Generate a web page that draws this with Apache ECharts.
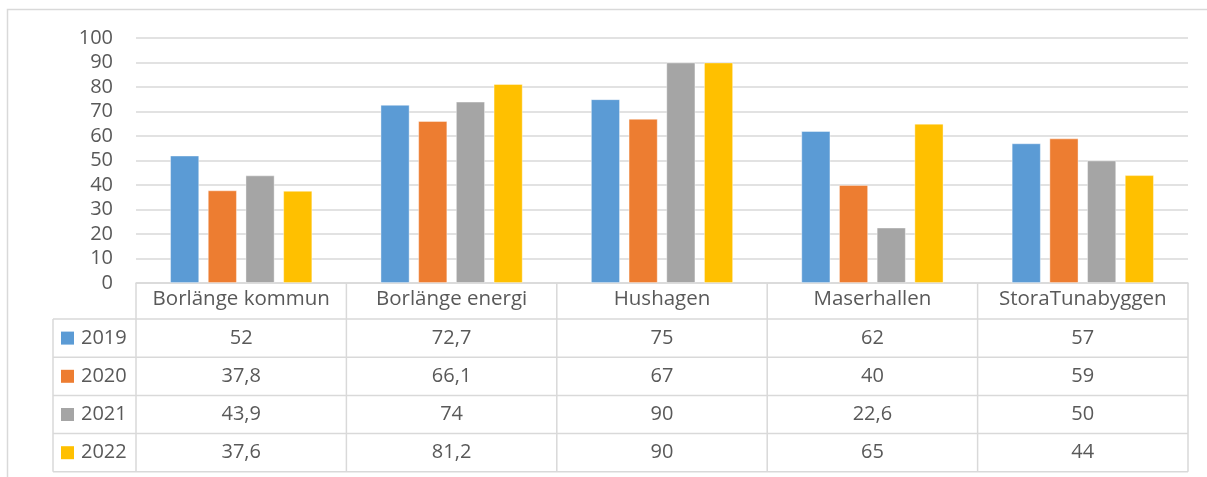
<!DOCTYPE html>
<html><head><meta charset="utf-8">
<script src="https://cdn.jsdelivr.net/npm/echarts@6/dist/echarts.min.js"></script>
<style>html,body{margin:0;padding:0;background:#fff}#c{width:1207px;height:477px}</style>
</head><body><div id="c"></div>
<script>
const categories = ['Borlänge kommun','Borlänge energi','Hushagen','Maserhallen','StoraTunabyggen'];
const years = ['2019','2020','2021','2022'];
const v2019 = [52, 72.7, 75, 62, 57];
const v2020 = [37.8, 66.1, 67, 40, 59];
const v2021 = [43.9, 74, 90, 22.6, 50];
const v2022 = [37.6, 81.2, 90, 65, 44];
const seriesValues = [v2019, v2020, v2021, v2022];
const colors = ['#5b9bd5', '#ed7d31', '#a5a5a5', '#ffc000'];

const FONT = 'Open Sans';
const TXT = '#595959';
const LINE = '#d9d9d9';

const chart = echarts.init(document.getElementById('c'), null, {renderer: 'canvas'});
const option = {
  animation: false,
  backgroundColor: '#fff',
  grid: {left: 136, right: 19, top: 38, bottom: 194},
  xAxis: {
    type: 'category', data: categories,
    axisLine: {show: true, lineStyle: {color: LINE, width: 1.5}},
    axisTick: {show: false},
    axisLabel: {interval: 0, color: TXT, fontFamily: FONT, fontSize: 20.5, margin: 6}
  },
  yAxis: {
    type: 'value', min: 0, max: 100, interval: 10,
    axisLine: {show: false}, axisTick: {show: false},
    axisLabel: {color: TXT, fontFamily: FONT, fontSize: 20, margin: 23},
    splitLine: {lineStyle: {color: LINE, width: 1.5}}
  },
  series: years.map((y, i) => ({
    name: y, type: 'bar', data: seriesValues[i],
    barWidth: 29, barGap: '30%',
    itemStyle: {color: colors[i], borderColor: 'rgba(255,255,255,0.5)', borderWidth: 0.8}
  }))
};
chart.setOption(option);

// data table built from the axis scales
const c0 = chart.convertToPixel({xAxisIndex: 0}, categories[0]);
const c1 = chart.convertToPixel({xAxisIndex: 0}, categories[1]);
const bw = c1 - c0;
const xStart = c0 - bw / 2;
const xEnd = xStart + bw * categories.length;
const yTop = chart.convertToPixel({yAxisIndex: 0}, 0);
const headerH = 36, rowH = 38.2;
const legendLeft = 53;
const yRows = years.map((_, i) => yTop + headerH + i * rowH);
const yBottom = yTop + headerH + years.length * rowH;

const g = [];
const line = (x1, y1, x2, y2) => g.push({type: 'line', shape: {x1, y1, x2, y2}, style: {stroke: LINE, lineWidth: 1.5}, silent: true});
// outer chart border
g.push({type: 'rect', shape: {x: 7.5, y: 9.5, width: 1300, height: 600}, style: {fill: 'none', stroke: LINE, lineWidth: 1.5}, silent: true});
// vertical column lines
for (let k = 0; k <= categories.length; k++) {
  const x = xStart + k * bw;
  line(x, yTop, x, yBottom);
}
line(legendLeft, yRows[0], legendLeft, yBottom);
// horizontal row lines
yRows.forEach(y => line(legendLeft, y, xEnd, y));
line(legendLeft, yBottom, xEnd, yBottom);

years.forEach((yr, i) => {
  const cy = yRows[i] + rowH / 2;
  g.push({type: 'rect', shape: {x: 61, y: cy - 6.5, width: 13, height: 13}, style: {fill: colors[i]}, silent: true});
  g.push({type: 'text', x: 81, y: cy, style: {text: yr, fill: TXT, font: '20px "' + FONT + '"', textAlign: 'left', textVerticalAlign: 'middle'}, silent: true});
  categories.forEach((cat, j) => {
    const cx = chart.convertToPixel({xAxisIndex: 0}, cat);
    g.push({type: 'text', x: cx, y: cy, style: {text: String(seriesValues[i][j]).replace('.', ','), fill: TXT, font: '20px "' + FONT + '"', textAlign: 'center', textVerticalAlign: 'middle'}, silent: true});
  });
});
chart.setOption({graphic: g});
</script>
</body></html>
